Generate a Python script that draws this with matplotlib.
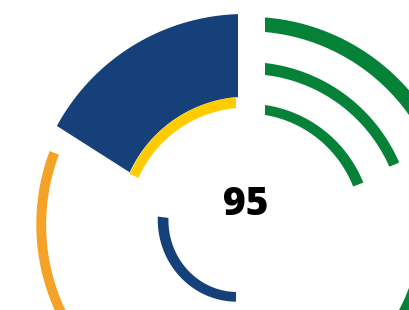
import numpy as np
import matplotlib.pyplot as plt

# segments of the ring, angles in degrees clockwise from 12 o'clock
names = ['navy_wedge', 'yellow', 'orange', 'navy_inner',
         'green_inner', 'green_mid', 'green_outer', 'green_low']
start_deg = [-57.5, -64.8, -68.5, -82.5, 0, 0, 0, 100]
end_deg = [0, 0, -150, -180, 69, 67, 100, 150]
center_label = '95'

# layout: radii (px) at segment start / end, gap offsets (px) at the ends
r_in_start = [128, 117.7, 200, 77.2, 114.8, 154.3, 197, 174.5]
r_in_end = [131, 120.3, 195.5, 64.6, 115.8, 156.8, 201, 174.5]
r_out_start = [214, 127.5, 210, 88, 124.6, 166.2, 211.5, 192]
r_out_end = [214, 131.3, 205, 74.2, 126.7, 167.5, 217, 192]
pad_start = [-15, 0, 0, 0, 20, 20, 20, 0]
pad_end = [-7, -9, 0, 9, 0, 0, 0, 0]

navy = '#15407a'
yellow = '#ffcc00'
orange = '#f5a327'
green = '#058237'
colors = [navy, yellow, orange, navy, green, green, green, green]

W, H = 409, 310
cx, cy = 245, 228   # ring centre in pixels from top-left
R = 240

fig = plt.figure(figsize=(W / 100, H / 100), dpi=100)
fig.patch.set_facecolor('white')
ax = fig.add_axes([(cx - R) / W, (H - cy - R) / H, 2 * R / W, 2 * R / H],
                  projection='polar')
ax.set_theta_zero_location('N')
ax.set_theta_direction(-1)


def band(t0, t1, p0, p1, ri0, ri1, ro0, ro1, color):
    n = 240
    f = np.linspace(0, 1, n)
    ro = ro0 + (ro1 - ro0) * f
    ri = ri0 + (ri1 - ri0) * f
    # ends are straight cuts shifted by a fixed pixel gap
    to = np.linspace(t0 + np.degrees(np.arcsin(p0 / ro0)),
                     t1 + np.degrees(np.arcsin(p1 / ro1)), n)
    ti = np.linspace(t0 + np.degrees(np.arcsin(p0 / ri0)),
                     t1 + np.degrees(np.arcsin(p1 / ri1)), n)
    theta = np.radians(np.concatenate([to, ti[::-1]]))
    r = np.concatenate([ro, ri[::-1]])
    ax.fill(theta, r, color=color, lw=0)


for i in range(len(names)):
    band(start_deg[i], end_deg[i], pad_start[i], pad_end[i],
         r_in_start[i], r_in_end[i], r_out_start[i], r_out_end[i], colors[i])

ax.set_ylim(0, R)
ax.set_axis_off()

fig.text(245.5 / W, 1 - 215 / H, center_label, ha='center', va='baseline',
         fontsize=28, fontweight='heavy', family='Open Sans', color='black')

fig.savefig('out.png', dpi=100)
